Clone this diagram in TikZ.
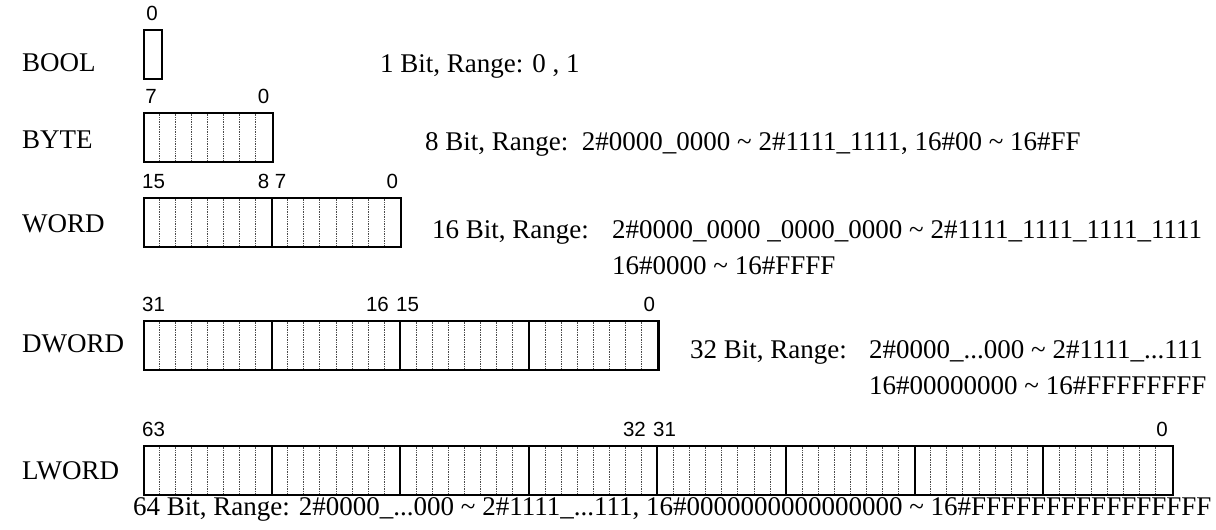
\documentclass[tikz,border=0pt]{standalone}
\usepackage{fontspec}
\setmainfont{Liberation Serif}
\newfontfamily\arialf{Liberation Sans}
\begin{document}
\begin{tikzpicture}[x=1pt,y=-1pt,
  lbl/.style={font=\fontsize{27}{31}\selectfont, anchor=base west, inner sep=0pt},
  bitn/.style={font=\arialf\fontsize{20.5}{22}\selectfont, anchor=base, inner sep=0pt},
  regbox/.style={draw, line width=2.1pt, inner sep=0pt, anchor=north west, minimum height=49pt},
  sepline/.style={line width=2pt},
  bitdiv/.style={line width=0.7pt, densely dotted, black!70}]
\useasboundingbox (0,0) rectangle (1216,530);
\def\bw{16.075}
% ---------- BOOL ----------
\node[lbl] (lbool) at (22,71) {BOOL};
\node[regbox, minimum width=18pt] (bool) at (143,29) {};
\node[bitn] (b0) at (152,20) {0};
% ---------- BYTE ----------
\node[lbl] (lbyte) at (22,148) {BYTE};
\foreach \k in {1,...,7} \draw[bitdiv] (143+\k*\bw,112) -- (143+\k*\bw,161);
\node[regbox, minimum width=8*\bw] (byte) at (143,112) {};
\node[bitn] at (151,103) {7};
\node[bitn] at (263.6,103) {0};
% ---------- WORD ----------
\node[lbl] (lword) at (22,232) {WORD};
\foreach \k in {1,...,15} \draw[bitdiv] (143+\k*\bw,197) -- (143+\k*\bw,246);
\draw[sepline] (143+8*\bw,197) -- (143+8*\bw,246);
\node[regbox, minimum width=16*\bw] (word) at (143,197) {};
\node[bitn, anchor=base west] at (142,188) {15};
\node[bitn] at (263.6,188) {8};
\node[bitn] at (280.6,188) {7};
\node[bitn] at (392.2,188) {0};
% ---------- DWORD ----------
\node[lbl] (ldword) at (22,352) {DWORD};
\foreach \k in {1,...,31} \draw[bitdiv] (143+\k*\bw,320) -- (143+\k*\bw,369);
\foreach \k in {1,2,3} \draw[sepline] (143+8*\k*\bw,320) -- (143+8*\k*\bw,369);
\node[regbox, minimum width=32*\bw] (dword) at (143,320) {};
\node[bitn, anchor=base west] at (142,311) {31};
\node[bitn, anchor=base east] at (389,311) {16};
\node[bitn, anchor=base west] at (396,311) {15};
\node[bitn] at (649.4,311) {0};
% ---------- LWORD ----------
\node[lbl] (llword) at (22,479) {LWORD};
\foreach \k in {1,...,63} \draw[bitdiv] (143+\k*\bw,445) -- (143+\k*\bw,494);
\foreach \k in {1,...,7} \draw[sepline] (143+8*\k*\bw,445) -- (143+8*\k*\bw,494);
\node[regbox, minimum width=64*\bw] (lwordb) at (143,445) {};
\node[bitn, anchor=base west] at (142,436) {63};
\node[bitn, anchor=base east] at (646,436) {32};
\node[bitn, anchor=base west] at (653,436) {31};
\node[bitn] at (1162,436) {0};
% ---------- ranges ----------
\node[lbl] (tbool) at (380,72) {1 Bit, Range: 0 , 1};
\node[lbl] (tbyte) at (425,150) {8 Bit, Range:\ \ 2\#0000\_0000 \textasciitilde{} 2\#1111\_1111, 16\#00 \textasciitilde{} 16\#FF};
\node[lbl] (tword) at (432,238) {16 Bit, Range:};
\node[lbl] (tword2) at (612,238) {2\#0000\_0000 \_0000\_0000 \textasciitilde{} 2\#1111\_1111\_1111\_1111};
\node[lbl] (tword3) at (612,274) {16\#0000 \textasciitilde{} 16\#FFFF};
\node[lbl] (tdword) at (690,358) {32 Bit, Range:};
\node[lbl] (tdword2) at (869,358) {2\#0000\_...000 \textasciitilde{} 2\#1111\_...111};
\node[lbl] (tdword3) at (869,394) {16\#00000000 \textasciitilde{} 16\#FFFFFFFF};
\node[lbl] (tlword) at (133,515) {64 Bit, Range: 2\#0000\_...000 \textasciitilde{} 2\#1111\_...111, 16\#0000000000000000 \textasciitilde{} 16\#FFFFFFFFFFFFFFFF};
\end{tikzpicture}
\end{document}
